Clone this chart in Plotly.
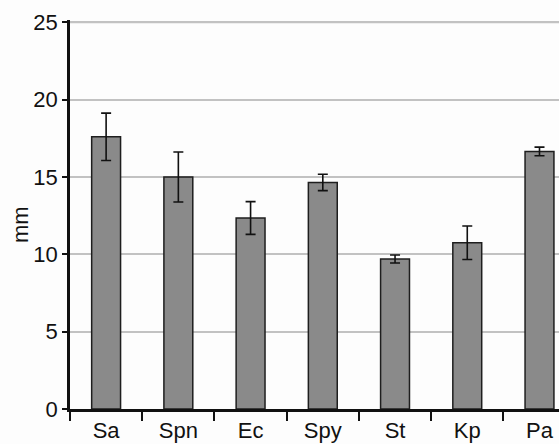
import plotly.graph_objects as go

# Inhibition zone diameters per organism (mean ± error)
organisms = ["Sa", "Spn", "Ec", "Spy", "St", "Kp", "Pa"]
zone_mm = [17.6, 15.0, 12.35, 14.65, 9.7, 10.75, 16.65]
zone_err = [1.53, 1.62, 1.06, 0.53, 0.26, 1.08, 0.28]
y_ticks = [0, 5, 10, 15, 20, 25]
y_top = 25

font_family = "Liberation Sans Narrow, Arial Narrow, Liberation Sans, Arial, sans-serif"
grid_color = "#c2c2c2"

fig = go.Figure(
    go.Bar(
        x=organisms,
        y=zone_mm,
        width=0.4,
        marker=dict(color="#8a8a8a", line=dict(color="#1e1e1e", width=1.5)),
        error_y=dict(
            type="data",
            array=zone_err,
            visible=True,
            color="#111111",
            thickness=1.6,
            width=5,
        ),
    )
)

fig.update_layout(
    width=559,
    height=444,
    margin=dict(l=70, r=0, t=20, b=35),
    paper_bgcolor="#fdfdfd",
    plot_bgcolor="#fdfdfd",
    showlegend=False,
    font=dict(family=font_family, size=22, color="#111111"),
)

fig.update_xaxes(
    range=[-0.5, 6.27],
    tickson="boundaries",
    ticks="outside",
    ticklen=9,
    tickwidth=1.5,
    tickcolor="#111111",
    showline=True,
    linecolor="#111111",
    linewidth=2.5,
    showgrid=False,
    automargin=False,
    tickfont=dict(size=22),
)

# small headroom above 25 keeps the top gridline inside the plot area
fig.update_yaxes(
    range=[0, 25.15],
    tickvals=y_ticks,
    ticks="outside",
    ticklen=5,
    tickwidth=1.5,
    tickcolor="#111111",
    showline=True,
    linecolor="#111111",
    linewidth=2.5,
    showgrid=True,
    gridcolor=grid_color,
    gridwidth=1.5,
    zeroline=False,
    automargin=False,
    tickfont=dict(size=22),
)

# explicit rule along the top tick value
fig.add_shape(
    type="line",
    xref="paper",
    yref="y",
    x0=0,
    x1=1,
    y0=y_top,
    y1=y_top,
    line=dict(color=grid_color, width=2),
    layer="above",
)

fig.add_annotation(
    text="mm",
    x=(20 - 70) / 489,
    y=(444 - 35 - 225) / 389,
    xref="paper",
    yref="paper",
    xanchor="center",
    yanchor="middle",
    showarrow=False,
    textangle=-90,
    font=dict(size=22),
)

fig.write_html("out.html")
